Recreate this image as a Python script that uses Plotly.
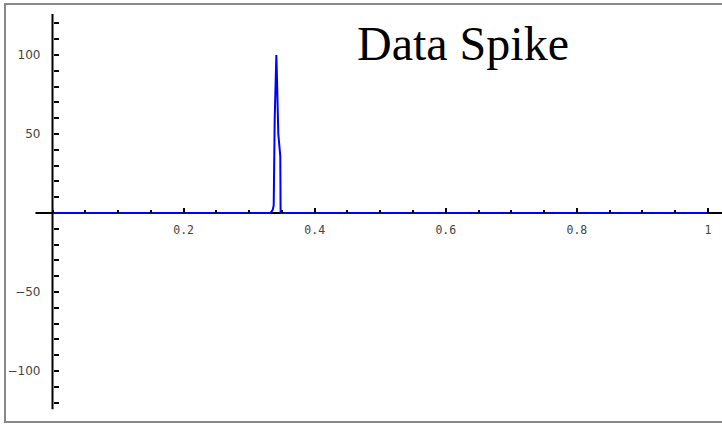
import plotly.graph_objects as go

# ---- data ----
x_vals = [0.0, 0.3325, 0.336, 0.3375, 0.339, 0.3415, 0.3425, 0.3445, 0.3475, 0.348, 1.0]
y_vals = [0, 0, 2, 5, 60, 100, 85, 50, 36, 0, 0]

x_tick_vals = [0.2, 0.4, 0.6, 0.8, 1.0]
x_tick_text = ["0.2", "0.4", "0.6", "0.8", "1"]
y_tick_vals = [-100, -50, 50, 100]
y_tick_text = ["\u2212100", "\u221250", "50", "100"]
title_text = "Data Spike"

# ---- layout constants ----
W, H = 722, 426
x_range = [-0.0801, 1.0214]
y_range = [-134.8, 134.8]
x_axis_ext = [-0.026, 1.1]
y_axis_ext = [-124.2, 126.0]

x_minor = [round(i * 0.05, 2) for i in range(0, 21)]
y_minor = [v for v in range(-120, 130, 10) if v != 0]

fig = go.Figure()
fig.add_trace(go.Scatter(
    x=x_vals, y=y_vals, mode="lines",
    line=dict(color="#0000ff", width=2),
    hoverinfo="skip", showlegend=False, cliponaxis=False,
))

# axis lines crossing at origin
fig.add_shape(type="line", xref="x", yref="y",
              x0=x_axis_ext[0], x1=x_axis_ext[1], y0=0, y1=0,
              line=dict(color="black", width=2), layer="below")
fig.add_shape(type="line", xref="x", yref="y",
              x0=0, x1=0, y0=y_axis_ext[0], y1=y_axis_ext[1],
              line=dict(color="black", width=2), layer="below")
# frame
fig.add_shape(type="rect", xref="paper", yref="paper",
              x0=5 / W, x1=1.02, y0=1 - 422 / H, y1=1 - 4 / H,
              line=dict(color="#888888", width=2), layer="below")

fig.add_annotation(text=title_text, xref="paper", yref="paper",
                   x=355 / W, y=1 - 15 / H, xanchor="left", yanchor="top",
                   showarrow=False,
                   font=dict(family="Liberation Serif", size=48, color="black"))

fig.update_layout(
    template="none",
    width=W, height=H,
    margin=dict(l=0, r=0, t=0, b=0, pad=0, autoexpand=False),
    paper_bgcolor="white", plot_bgcolor="white",
    xaxis=dict(
        range=x_range, anchor="free", position=0.5, side="bottom",
        automargin=False,
        showgrid=False, zeroline=False, showline=False,
        tickmode="array", tickvals=x_tick_vals, ticktext=x_tick_text,
        ticks="inside", ticklen=5, tickwidth=1.5, tickcolor="black",
        ticklabelstandoff=8, ticklabeloverflow="allow",
        tickfont=dict(family="DejaVu Sans Mono", size=11.5, color="#444444"),
        minor=dict(tickvals=x_minor, ticks="inside", ticklen=3,
                   tickwidth=1.5, tickcolor="black", showgrid=False),
        fixedrange=True,
    ),
    yaxis=dict(
        range=y_range, anchor="free", position=52.5 / W, side="left",
        automargin=False,
        showgrid=False, zeroline=False, showline=False,
        tickmode="array", tickvals=y_tick_vals, ticktext=y_tick_text,
        ticks="inside", ticklen=5, tickwidth=1.5, tickcolor="black",
        ticklabelstandoff=12, ticklabeloverflow="allow",
        tickfont=dict(family="DejaVu Sans", size=12, color="#444444"),
        minor=dict(tickvals=y_minor, ticks="inside", ticklen=5,
                   tickwidth=1.5, tickcolor="black", showgrid=False),
        fixedrange=True,
    ),
)

fig.write_html(
    "out.html",
    config={"displayModeBar": False},
    post_script="document.body.style.margin='0';document.body.style.overflow='hidden';",
)
